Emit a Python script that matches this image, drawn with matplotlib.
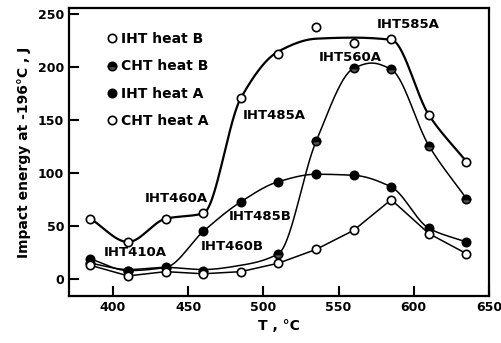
import numpy as np
import matplotlib
matplotlib.use("Agg")
import matplotlib.pyplot as plt

# temperatures, deg C
temps = [385, 410, 435, 460, 485, 510, 535, 560, 585, 610, 635]

# marker values (J)
iht_b = [57, 35, 57, 62, 171, 213, 238, 223, 227, 155, 111]
cht_b_t = [385, 410, 435, 460, 510, 535, 560, 585, 610, 635]
cht_b = [15, 8, 10, 8, 24, 130, 199, 198, 126, 76]
iht_a = [19, 8, 11, 45, 73, 92, 99, 98, 87, 48, 35]
cht_a = [13, 3, 7, 5, 7, 15, 28, 46, 75, 43, 24]

# hand drawn curves (nodes)
curve1_t = [385, 410, 435, 460, 485, 510, 535, 560, 585, 610, 635]
curve1_v = [57, 35, 57, 62, 171, 215, 227, 228, 226, 155, 111]
curve2_t = [385, 410, 435, 460, 485, 510, 535, 560, 572, 585, 610, 635]
curve2_v = [15, 9, 11, 9, 13, 24, 130, 199, 204, 198, 126, 76]

labels = ["IHT460A", "IHT410A", "IHT460B", "IHT485B", "IHT485A", "IHT560A", "IHT585A"]
label_pos = [(442, 76), (415, 25), (479, 31), (498, 59), (507, 154), (558, 209), (596, 240)]


def pchip(x, y, n=300):
    x = np.asarray(x, float)
    y = np.asarray(y, float)
    h = np.diff(x)
    d = np.diff(y) / h
    m = np.zeros_like(y)
    for k in range(1, len(x) - 1):
        if d[k - 1] * d[k] > 0:
            w1 = 2 * h[k] + h[k - 1]
            w2 = h[k] + 2 * h[k - 1]
            m[k] = (w1 + w2) / (w1 / d[k - 1] + w2 / d[k])
    m[0] = d[0]
    m[-1] = d[-1]
    xs = np.linspace(x[0], x[-1], n)
    i = np.clip(np.searchsorted(x, xs) - 1, 0, len(x) - 2)
    t = (xs - x[i]) / h[i]
    ys = ((2 * t**3 - 3 * t**2 + 1) * y[i] + (t**3 - 2 * t**2 + t) * h[i] * m[i]
          + (-2 * t**3 + 3 * t**2) * y[i + 1] + (t**3 - t**2) * h[i] * m[i + 1])
    return xs, ys


plt.rcParams['font.family'] = 'DejaVu Sans'
plt.rcParams['font.weight'] = 'bold'
fig = plt.figure(figsize=(5.01, 3.43), dpi=100)
ax = fig.add_axes([0.1377, 0.137, 0.976 - 0.1377, 0.9767 - 0.137])

ms = 6
ax.plot(*pchip(curve1_t, curve1_v), color='black', lw=1.6, zorder=2)
ax.plot(*pchip(curve2_t, curve2_v), color='black', lw=1.1, zorder=2)
ax.plot(*pchip(temps, iht_a), color='black', lw=1.1, zorder=2)
ax.plot(temps, cht_a, color='black', lw=1.1, zorder=2)

ax.plot(temps, iht_b, 'o', ms=ms, mfc='white', mec='black', mew=1.2, ls='none',
        label='IHT heat B', zorder=3)
ax.plot(cht_b_t, cht_b, 'o', ms=ms, mfc='black', mec='black', mew=1.2, ls='none',
        fillstyle='top', markerfacecoloralt='#555555', label='CHT heat B', zorder=3)
ax.plot(temps, iht_a, 'o', ms=ms, mfc='black', mec='black', mew=1.2, ls='none',
        label='IHT heat A', zorder=3)
ax.plot(temps, cht_a, 'o', ms=ms, mfc='white', mec='black', mew=1.2, ls='none',
        label='CHT heat A', zorder=3)

for txt, (x, y) in zip(labels, label_pos):
    ax.text(x, y, txt, fontsize=9.5, ha='center', va='center', fontweight='bold')

ax.legend(loc='upper left', bbox_to_anchor=(0.075, 0.94), frameon=False, fontsize=10,
          handlelength=0.6, handletextpad=0.4, labelspacing=0.95, borderpad=0)

ax.set_xlim(370.7, 650)
ax.set_ylim(-16, 256)
ax.set_xticks([400, 450, 500, 550, 600, 650])
ax.set_yticks([0, 50, 100, 150, 200, 250])
ax.tick_params(direction='in', length=7, width=1.5, labelsize=9)
for s in ax.spines.values():
    s.set_linewidth(1.6)
ax.set_xlabel('T , °C', fontsize=10, fontweight='bold', labelpad=4)
ax.set_ylabel('Impact energy at -196°C , J', fontsize=10, fontweight='bold', labelpad=5)

fig.savefig("out.png", dpi=100)
